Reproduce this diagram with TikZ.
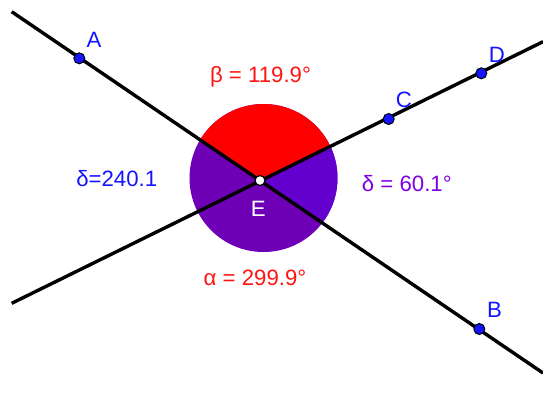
\documentclass[tikz,border=0pt]{standalone}
\usepackage{fontspec}
\setmainfont{Liberation Sans}
\definecolor{ptblue}{RGB}{20,20,255}
\definecolor{lblred}{RGB}{255,20,20}
\definecolor{violet}{RGB}{128,0,228}
\definecolor{purpA}{RGB}{110,0,182}
\definecolor{purpB}{RGB}{100,0,205}
\begin{document}
\begin{tikzpicture}[x=1pt,y=-1pt,
  gline/.style={line width=3.4pt,black},
  gpt/.style={circle,draw=black,line width=1pt,fill=ptblue,inner sep=0pt,minimum size=11pt},
  ept/.style={circle,draw=black,line width=1.2pt,fill=white,inner sep=0pt,minimum size=10pt},
  lbl/.style={anchor=base,inner sep=0pt,font=\fontsize{22.2}{25}\selectfont},
]
\useasboundingbox (0,0) rectangle (543,402);
% endpoints of the lines
\coordinate (ab1) at (11.7,11.7);
\coordinate (ab2) at (543,373);
\coordinate (cd1) at (11.7,303.3);
\coordinate (cd2) at (543,41.7);
\coordinate (Ec) at (260,180.5);
% angle disc
\fill[purpA] (263.5,178) circle (74);
\begin{scope}
  \clip (Ec) -- (cd2) -- (543,0) -- (0,0) -- (ab1) -- cycle;
  \fill[red] (263.5,178) circle (74);
\end{scope}
\begin{scope}
  \clip (Ec) -- (cd2) -- (543,402) -- (ab2) -- cycle;
  \fill[purpB] (263.5,178) circle (74);
\end{scope}
% lines
\draw[gline] (ab1) -- (ab2);
\draw[gline] (cd1) -- (cd2);
% points
\node[gpt] (A) at (79.3,58.3) {};
\node[gpt] (B) at (479.3,329) {};
\node[gpt] (C) at (388.7,119) {};
\node[gpt] (D) at (481.3,73.3) {};
\node[ept] (E) at (Ec) {};
% point labels
\node[lbl,text=ptblue] (lA) at (94,47) {A};
\node[lbl,text=ptblue] (lB) at (494.5,317) {B};
\node[lbl,text=ptblue] (lC) at (404,107) {C};
\node[lbl,text=ptblue] (lD) at (497,62) {D};
\node[lbl,text=white] (lE) at (258.3,216.7) {E};
% angle labels
\node[lbl,text=lblred] (beta) at (260.5,82.3) {β = 119.9°};
\node[lbl,text=lblred] (alpha) at (255,285) {α = 299.9°};
\node[lbl,text=ptblue] (d1) at (116.7,186.7) {δ=240.1};
\node[lbl,text=violet] (d2) at (406.8,191) {δ = 60.1°};
\end{tikzpicture}
\end{document}
